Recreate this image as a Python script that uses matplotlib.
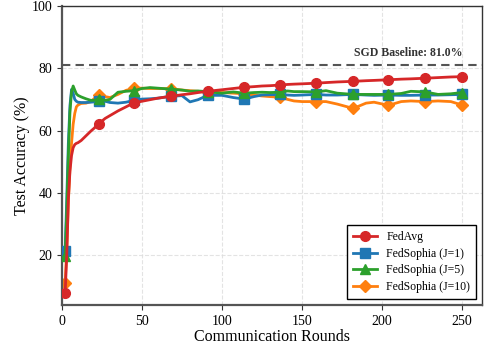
import numpy as np
import matplotlib
matplotlib.use("Agg")
import matplotlib.pyplot as plt

plt.rcParams['font.family'] = ['Liberation Serif', 'DejaVu Serif']

rounds = [2, 3, 4, 5, 6, 7, 8, 9, 10, 12, 15, 18, 20, 23, 27, 30, 35, 40, 45, 50,
          55, 60, 68, 75, 80, 85, 91, 100, 107, 114, 120, 125, 130, 136, 141, 145,
          150, 159, 165, 172, 182, 190, 195, 204, 212, 218, 227, 235, 243, 250]
marker_rounds = [2, 23, 45, 68, 91, 114, 136, 159, 182, 204, 227, 250]

fedavg = [7.8, 20, 38, 47, 52, 54.5, 55.5, 55.9, 56.1, 56.8, 58.3, 59.8, 60.7, 62.2,
          63.9, 64.8, 66.3, 67.6, 68.9, 69.4, 69.9, 70.4, 71.0, 71.5, 71.8, 72.2,
          72.6, 73.1, 73.5, 73.9, 74.1, 74.3, 74.4, 74.6, 74.8, 74.9, 75.0, 75.2,
          75.4, 75.6, 75.8, 76.0, 76.1, 76.3, 76.5, 76.6, 76.8, 77.0, 77.2, 77.3]
sophia_j1 = [21.5, 38, 56, 68, 73.2, 72.0, 70.0, 69.4, 69.1, 69.0, 69.0, 69.1, 69.2,
             69.5, 69.4, 69.0, 68.8, 69.1, 69.7, 70.1, 70.2, 70.4, 71.0, 71.2, 69.2,
             69.9, 71.3, 71.3, 70.6, 70.1, 70.9, 71.4, 71.5, 71.6, 71.4, 71.3, 71.4,
             71.6, 71.4, 71.4, 71.6, 71.4, 71.3, 71.4, 71.3, 71.3, 71.4, 71.4, 71.5, 71.6]
sophia_j5 = [19.8, 34, 52, 66, 72.5, 74.3, 73.0, 71.8, 71.3, 70.8, 70.2, 69.7, 69.7,
             70.1, 69.7, 70.0, 72.3, 72.6, 72.8, 73.5, 73.8, 73.6, 73.3, 73.0, 72.6,
             72.7, 72.5, 72.0, 72.4, 72.0, 72.2, 72.3, 72.2, 72.3, 72.7, 72.5, 72.5,
             72.4, 72.8, 72.0, 71.6, 71.6, 71.6, 71.6, 71.9, 72.6, 72.4, 71.6, 71.8, 72.2]
sophia_j10 = [11, 22, 37, 48, 56, 62, 65.5, 67.6, 68.2, 68.7, 68.8, 69.3, 70.2, 71.4,
              70.9, 70.6, 71.6, 72.9, 73.6, 73.6, 73.5, 73.5, 73.4, 73.0, 72.8, 72.6,
              72.4, 72.2, 72.0, 71.8, 71.4, 71.1, 70.9, 70.7, 70.0, 69.5, 69.3, 69.3,
              69.3, 68.5, 67.1, 68.8, 69.1, 68.1, 69.3, 69.5, 69.3, 69.5, 69.3, 68.2]

sgd_baseline = 81.0

series = [
    ("FedAvg", fedavg, '#d62728', 'o', 5),
    ("FedSophia (J=1)", sophia_j1, '#1f77b4', 's', 3),
    ("FedSophia (J=5)", sophia_j5, '#2ca02c', '^', 3),
    ("FedSophia (J=10)", sophia_j10, '#ff7f0e', 'D', 2),
]

marks = [rounds.index(r) for r in marker_rounds]

fig = plt.figure(figsize=(4.84, 3.49), dpi=100)
ax = fig.add_axes([0.128, 0.126, 0.868, 0.857])

for label, vals, color, marker, z in series:
    ms = 7 if marker != 'D' else 6.5
    ax.plot(rounds, vals, color=color, marker=marker, markevery=marks,
            markersize=ms, linewidth=2.0, label=label, zorder=z)

ax.axhline(sgd_baseline, color='#555555', linestyle='--', linewidth=1.5,
           dashes=(4, 2.5), zorder=1)
ax.text(250, sgd_baseline + 2.0, "SGD Baseline: 81.0%", ha='right', va='bottom',
        fontsize=8.5, fontweight='bold', color='#333333')

ax.set_xlim(0, 262.5)
ax.set_ylim(4, 100)
ax.set_xticks([0, 50, 100, 150, 200, 250])
ax.set_yticks([20, 40, 60, 80, 100])
ax.tick_params(labelsize=10, length=3.5, color='#333333')
ax.grid(True, linestyle='--', color='#dddddd', linewidth=0.8, alpha=0.8)
ax.set_axisbelow(True)

for side in ['left', 'bottom']:
    ax.spines[side].set_linewidth(1.6)
    ax.spines[side].set_color('#555555')
for side in ['top', 'right']:
    ax.spines[side].set_linewidth(1.0)
    ax.spines[side].set_color('#333333')

ax.set_xlabel("Communication Rounds", fontsize=11.5, labelpad=1)
ax.set_ylabel("Test Accuracy (%)", fontsize=11.5, labelpad=1)

leg = ax.legend(loc='lower right', fontsize=8.5, fancybox=False,
                edgecolor='black', framealpha=1.0, handlelength=2.0,
                borderpad=0.5, labelspacing=0.4)
leg.get_frame().set_linewidth(1.0)

fig.savefig("out.png", dpi=100)
